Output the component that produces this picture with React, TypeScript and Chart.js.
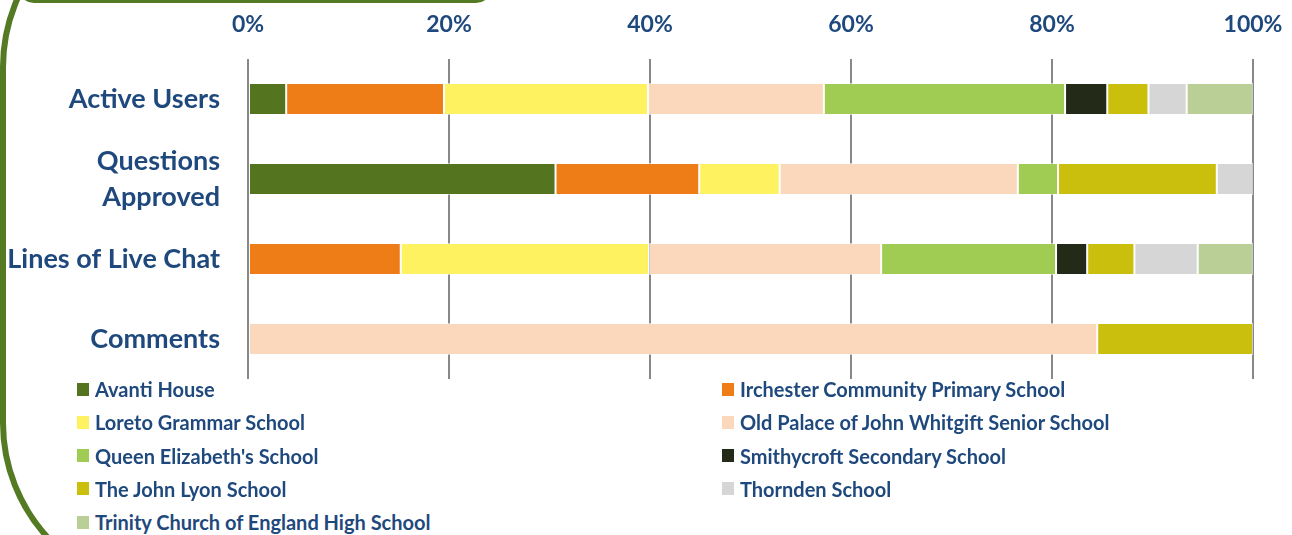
import React, { useEffect, useRef } from 'react';
import { Chart, registerables } from 'chart.js';

Chart.register(...registerables);

const categories: string[][] = [['Active Users'], ['Questions', 'Approved'], ['Lines of Live Chat'], ['Comments']];
const tickValues = [0, 20, 40, 60, 80, 100];

const schools = [
  'Avanti House',
  'Irchester Community Primary School',
  'Loreto Grammar School',
  'Old Palace of John Whitgift Senior School',
  "Queen Elizabeth's School",
  'Smithycroft Secondary School',
  'The John Lyon School',
  'Thornden School',
  'Trinity Church of England High School',
];
const colors = ['#54741f', '#ee7d18', '#fff260', '#fbd8bb', '#a0cc54', '#242a18', '#cbbf0e', '#d6d6d6', '#b9cf96'];

const avanti = [3.8, 30.6, 0, 0];
const irchester = [15.7, 14.3, 15.2, 0];
const loreto = [20.3, 8.0, 24.7, 0];
const oldPalace = [17.5, 23.7, 23.1, 84.5];
const queenElizabeth = [24.0, 4.0, 17.4, 0];
const smithycroft = [4.2, 0, 3.1, 0];
const johnLyon = [4.1, 15.8, 4.7, 15.5];
const thornden = [3.8, 3.6, 6.3, 0];
const trinity = [6.6, 0, 5.5, 0];

const seriesValues = [avanti, irchester, loreto, oldPalace, queenElizabeth, smithycroft, johnLyon, thornden, trinity];

const TEXT = '#1F497D';
const FONT = 'Lato, "Open Sans", sans-serif';
const FRAME = '#547a24';

export default function App() {
  const ref = useRef<HTMLCanvasElement | null>(null);

  useEffect(() => {
    if (!ref.current) return;
    const chart = new Chart(ref.current, {
      type: 'bar',
      data: {
        labels: categories,
        datasets: schools.map((name, i) => ({
          label: name,
          data: seriesValues[i],
          backgroundColor: colors[i],
          borderColor: 'rgba(255,255,255,0.55)',
          borderWidth: 1,
          borderSkipped: false,
          categoryPercentage: 1,
          barPercentage: 0.4,
        })),
      },
      options: {
        indexAxis: 'y',
        animation: false,
        responsive: true,
        maintainAspectRatio: false,
        layout: { padding: { left: 8, right: 39, top: 0, bottom: 6 } },
        plugins: { legend: { display: false }, tooltip: { enabled: false } },
        scales: {
          x: {
            position: 'top',
            stacked: true,
            min: 0,
            max: 100,
            afterBuildTicks: (scale: any) => {
              scale.ticks = tickValues.map((v) => ({ value: v }));
            },
            afterFit: (scale: any) => {
              scale.height = 59;
              scale.paddingLeft = 0;
              scale.paddingRight = 0;
            },
            grid: { color: '#888888', lineWidth: 2, drawTicks: false },
            border: { display: false },
            ticks: {
              padding: 21,
              color: TEXT,
              font: { family: FONT, size: 23, weight: 'bold' },
              callback: (v: any) => v + '%',
            },
          },
          y: {
            stacked: true,
            afterFit: (scale: any) => {
              scale.width = 240;
              scale.paddingTop = 0;
              scale.paddingBottom = 0;
            },
            grid: { display: false, drawTicks: false },
            border: { display: false },
            ticks: {
              autoSkip: false,
              padding: 28,
              color: TEXT,
              font: { family: FONT, size: 27, weight: 'bold', lineHeight: 1.33 },
            },
          },
        },
      },
    });
    return () => chart.destroy();
  }, []);

  return (
    <div
      style={{
        position: 'fixed',
        left: 0,
        top: 0,
        width: 1292,
        height: 535,
        overflow: 'hidden',
        background: '#ffffff',
        fontFamily: FONT,
      }}
    >
      <div
        style={{
          position: 'absolute',
          left: 0,
          top: -105,
          width: 2200,
          height: 700,
          border: `6px solid ${FRAME}`,
          borderRadius: 172,
          boxSizing: 'border-box',
        }}
      />
      <div
        style={{
          position: 'absolute',
          left: 18,
          top: -50,
          width: 474,
          height: 53,
          border: `4px solid ${FRAME}`,
          borderRadius: 16,
          boxSizing: 'border-box',
          background: '#ffffff',
        }}
      />
      <div style={{ position: 'absolute', left: 0, top: 0, width: 1292, height: 385 }}>
        <canvas ref={ref} />
      </div>
      {schools.map((name, i) => {
        const col = i % 2;
        const row = Math.floor(i / 2);
        const cy = 389 + row * 33.3;
        return (
          <div
            key={name}
            style={{
              position: 'absolute',
              left: col ? 722 : 77,
              top: cy - 11,
              height: 22,
              display: 'flex',
              alignItems: 'center',
              whiteSpace: 'nowrap',
            }}
          >
            <span style={{ display: 'inline-block', width: 12, height: 13, background: colors[i], marginRight: 6 }} />
            <span style={{ color: TEXT, fontWeight: 'bold', fontSize: 20, lineHeight: '22px' }}>{name}</span>
          </div>
        );
      })}
    </div>
  );
}
